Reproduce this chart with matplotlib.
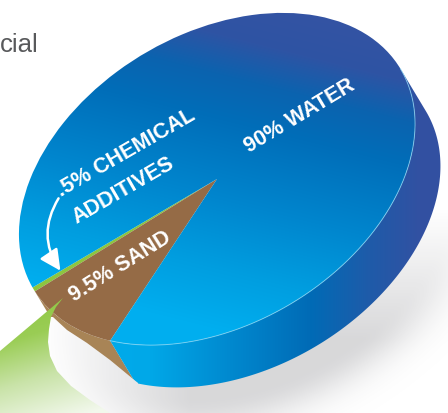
import numpy as np
import matplotlib
matplotlib.use("Agg")
import matplotlib.pyplot as plt
from matplotlib.patches import Wedge, Polygon, FancyArrowPatch
from matplotlib.transforms import Affine2D
from matplotlib.colors import to_rgb

# slice data (counter-clockwise from START)
NAMES = ["chemical", "sand", "water"]
PCT = [0.5, 9.5, 90.0]
TOP_COLORS = ["#8DC63F", "#956B46", None]     # None -> blue gradient
SIDE_COLORS = ["#8DC63F", "#A88456", None]

W, H = 448, 414
CX, CY = 217, 180          # pie centre (pixels, y down)
RX, RY, TILT = 214, 145, 31
DEPTH = 0.34
START = 179.2

# blue gradients: (position, colour)
TOP_STOPS = [(-10, "#3453A3"), (35, "#2E54A4"), (75, "#0B63AF"), (120, "#006EB9"),
             (200, "#0086CE"), (270, "#009EE0"), (330, "#00AEEF")]
SIDE_STOPS = [(40, "#00AEEF"), (150, "#00A8E8"), (230, "#0089CF"), (310, "#006BB6"),
              (370, "#1F5BA9"), (420, "#3251A2"), (448, "#3350A1")]
GREEN_STOPS = [(300, "#8CC63F"), (345, "#9ACD55"), (390, "#C9E3A8"), (440, "#F2F8EC")]

# outline of the green swoosh and the white lip under the pie
SWOOSH = [(0, 352), (63, 299), (56, 308), (51, 318), (49, 330), (48, 343), (50, 357),
          (57, 372), (71, 387), (90, 401), (110, 414), (0, 414)]
LIP = [(50, 318), (53, 318), (67, 331), (87, 344), (110, 361), (133, 380), (138, 384),
       (138, 414), (100, 414), (80, 400), (60, 385), (46, 360), (45, 330)]


def ramp(stops, field):
    pos = [s[0] for s in stops]
    cols = np.array([to_rgb(s[1]) for s in stops])
    return np.dstack([np.interp(field, pos, cols[:, k]) for k in range(3)])


xx, yy = np.meshgrid(np.arange(W) + 0.5, np.arange(H) + 0.5)

fig = plt.figure(figsize=(W / 100, H / 100), dpi=100)
ax = fig.add_axes([0, 0, 1, 1])
ax.set_axis_off()

aff = Affine2D().scale(RX, RY).rotate_deg(TILT).scale(1, -1).translate(CX, CY)
tr = aff + ax.transData

# soft grey shadow below the disc
minv = np.linalg.inv(aff.get_matrix())
q = minv @ np.vstack([xx.ravel(), yy.ravel(), np.ones(xx.size)])
qu = q[0].reshape(xx.shape) - 0.04
qv = q[1].reshape(xx.shape) + DEPTH + 0.12
dist = np.clip(np.hypot(qu, qv) - 1, 0, None)
alpha = (0.34 * np.exp(-(dist / 0.22) ** 2) * np.clip((xx - 40) / 150, 0, 1)
         * np.clip((yy - 210) / 130, 0, 1))
shadow = np.dstack([np.full_like(xx, 0.55), np.full_like(xx, 0.55),
                    np.full_like(xx, 0.57), alpha])
ax.imshow(shadow, extent=(0, W, H, 0), origin="upper", zorder=1, interpolation="bilinear")

top_img = ramp(TOP_STOPS, yy - 0.25 * (xx - CX))
side_img = ramp(SIDE_STOPS, xx)

angles = START + np.concatenate([[0], np.cumsum(PCT)]) * 3.6
for i, name in enumerate(NAMES):
    a, b = angles[i], angles[i + 1]
    # side band: visible half of the rim is 180..360 degrees
    lo, hi = max(a, 180), min(b, 360)
    if hi > lo:
        t = np.radians(np.linspace(lo, hi, 200))
        top = np.column_stack([np.cos(t), np.sin(t)])
        bot = top - [0, DEPTH]
        side = Polygon(np.vstack([top, bot[::-1]]), closed=True, transform=tr,
                       lw=0, zorder=2,
                       facecolor=SIDE_COLORS[i] if SIDE_COLORS[i] else "none")
        ax.add_patch(side)
        if SIDE_COLORS[i] is None:
            im = ax.imshow(side_img, extent=(0, W, H, 0), origin="upper", zorder=2,
                           interpolation="bilinear")
            im.set_clip_path(side)
    wedge = Wedge((0, 0), 1, a, b, transform=tr, lw=0, zorder=3,
                  facecolor=TOP_COLORS[i] if TOP_COLORS[i] else "none")
    ax.add_patch(wedge)
    if TOP_COLORS[i] is None:
        im = ax.imshow(top_img, extent=(0, W, H, 0), origin="upper", zorder=3,
                       interpolation="bilinear")
        im.set_clip_path(wedge)

# light edge where the top face meets the side
t = np.radians(np.linspace(angles[2], 360, 200))
ax.plot(np.cos(t), np.sin(t), transform=tr, color="#8FDBF7", lw=0.7, alpha=0.7, zorder=4)

# white lip and green swoosh in the lower left
lip = Polygon(LIP, closed=True, facecolor="white", lw=0, zorder=5)
ax.add_patch(lip)
im = ax.imshow(shadow, extent=(0, W, H, 0), origin="upper", zorder=5.5,
               interpolation="bilinear")
im.set_clip_path(lip)
sw = Polygon(SWOOSH, closed=True, facecolor="none", lw=0, zorder=6)
ax.add_patch(sw)
im = ax.imshow(ramp(GREEN_STOPS, yy + 0.3 * xx), extent=(0, W, H, 0), origin="upper",
               zorder=6, interpolation="bilinear")
im.set_clip_path(sw)

# labels
lab = dict(color="white", fontsize=15.5, fontweight="bold", family="Liberation Sans",
           ha="center", va="center", rotation_mode="anchor", zorder=8)
ax.text(300, 116, f"{PCT[2]:g}% WATER", rotation=31, **lab)
ax.text(120, 267, f"{PCT[1]:g}% SAND", rotation=32, **lab)
ax.text(126, 153, f"{str(PCT[0]).lstrip('0')}% CHEMICAL", rotation=30, **lab)
ax.text(123, 191, "ADDITIVES", rotation=30, **lab)

arrow = FancyArrowPatch((60, 197), (62, 274), connectionstyle="arc3,rad=0.34",
                        arrowstyle="-|>,head_length=0.9,head_width=0.45",
                        mutation_scale=14, color="white", lw=1.8, zorder=8)
ax.add_patch(arrow)

ax.text(0, 52, "cial", fontsize=18.5, color="#58595B", family="Liberation Sans",
        ha="left", va="baseline", zorder=8)

ax.set_xlim(0, W)
ax.set_ylim(H, 0)
ax.set_aspect("auto")
fig.savefig("out.png", dpi=100)
